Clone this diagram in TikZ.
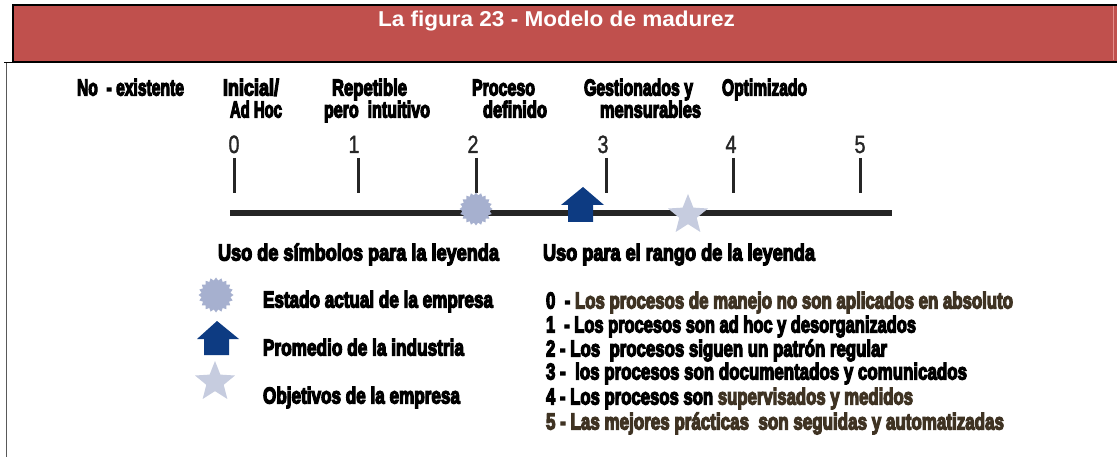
\documentclass[tikz,border=0pt]{standalone}
\usepackage{graphicx}
\usepackage{fontspec}
\usetikzlibrary{shapes.geometric}
\setmainfont{Liberation Sans}
\newfontfamily\impf[FakeBold=6]{Liberation Sans Bold}
\newfontfamily\digf[FakeBold=1.5]{Liberation Sans}
\definecolor{band}{HTML}{C0504D}
\definecolor{bandline}{HTML}{E58F8C}
\definecolor{burstc}{HTML}{A6B0CF}
\definecolor{starc}{HTML}{C6CCDF}
\definecolor{arrowc}{HTML}{0D3B82}
\definecolor{brownc}{HTML}{3F3323}
\newcommand{\imp}[2]{\resizebox{#1pt}{\height}{\fontsize{23}{23}\impf #2}}
\newcommand{\dig}[1]{\resizebox{11pt}{\height}{\fontsize{25}{25}\digf #1}}
\tikzset{
  lbl/.style={anchor=base west,inner sep=0pt,outer sep=0pt,text=black},
  digit/.style={anchor=base,inner sep=0pt,outer sep=0pt,text=black!85},
  burst/.style={star,star points=20,star point ratio=1.2,fill=burstc,inner sep=0pt,outer sep=0pt},
  goal/.style={star,star points=5,star point ratio=2.3,fill=starc,inner sep=0pt,outer sep=0pt,minimum size=42pt},
  tick/.style={line width=3pt,black!85},
  uparrow/.style={fill=arrowc,draw=none},
}
\begin{document}
\begin{tikzpicture}[x=1pt,y=-1pt]
\useasboundingbox[fill=white] (0,0) rectangle (1117,457);
% band
\fill[band] (12,4) rectangle (1117,62);
\draw[black,line width=2pt] (1117,5) -- (12.5,5) -- (12.5,62) -- (1117,62);
\draw[bandline,line width=1pt] (1113.5,6) -- (1113.5,60);
\draw[black,line width=1pt] (4,62.5) -- (12,62.5);
\draw[black!65,line width=1.3pt] (6.5,63) -- (6.5,457);
\node[anchor=base,inner sep=0pt,text=white] (title) at (556.5,27) {\resizebox{357pt}{\height}{\fontsize{21.5}{21.5}\selectfont\bfseries La figura 23 - Modelo de madurez}};
% level names
\node[lbl] (n0) at (77,95.5) {\imp{107}{No\ \ - existente}};
\node[lbl] (n1a) at (223,95.5) {\imp{56}{Inicial/}};
\node[lbl] (n1b) at (230,117.5) {\imp{52}{Ad Hoc}};
\node[lbl] (n2a) at (332,95.5) {\imp{75}{Repetible}};
\node[lbl] (n2b) at (324,117.5) {\imp{106}{pero\ \ intuitivo}};
\node[lbl] (n3a) at (472,95.5) {\imp{63}{Proceso}};
\node[lbl] (n3b) at (483,117.5) {\imp{64}{definido}};
\node[lbl] (n4a) at (584,95.5) {\imp{109}{Gestionados y}};
\node[lbl] (n4b) at (600,117.5) {\imp{101}{mensurables}};
\node[lbl] (n5) at (722,95.5) {\imp{85}{Optimizado}};
% digits and ticks
\foreach \d/\dx/\tx in {0/234/234.5,1/354/358,2/473/476,3/603/606,4/731/733,5/860/860}{
  \node[digit] (d\d) at (\dx,153) {\dig{\d}};
  \coordinate (ta\d) at (\tx,158);
  \coordinate (tb\d) at (\tx,193);
  \draw[tick] (ta\d) -- (tb\d);
}
% axis
\coordinate (axl) at (230,213);
\coordinate (axr) at (892,213);
\draw[black!85,line width=6pt] (axl) -- (axr);
% symbols on axis
\node[burst,minimum size=33pt] (bs1) at (476,209) {};
\fill[uparrow] (583,187) -- (604,205) -- (593,205) -- (593,222) -- (568,222) -- (568,205) -- (561,205) -- cycle;
\node[goal] (st1) at (688,215) {};
% headings
\node[lbl] (h1) at (218,260.5) {\imp{281}{Uso de símbolos para la leyenda}};
\node[lbl] (h2) at (543,260.5) {\imp{272}{Uso para el rango de la leyenda}};
% legend symbols
\node[burst,minimum size=35pt] (bs2) at (216,295) {};
\fill[uparrow] (217,321) -- (239,339) -- (229,339) -- (229,355) -- (204,355) -- (204,339) -- (197,339) -- cycle;
\node[goal] (st2) at (215,382) {};
% legend text
\node[lbl] (l1) at (263,307.5) {\imp{230}{Estado actual de la empresa}};
\node[lbl] (l2) at (263,355.5) {\imp{201}{Promedio de la industria}};
\node[lbl] (l3) at (263,403.5) {\imp{197}{Objetivos de la empresa}};
% range text
\node[lbl] (r0) at (546,308.5) {\imp{467}{0\ \ - \textcolor{brownc}{Los procesos de manejo no son aplicados en absoluto}}};
\node[lbl] (r1) at (546,332.5) {\imp{370}{1\ \ - Los procesos son ad hoc y desorganizados}};
\node[lbl] (r2) at (546,356.5) {\imp{341}{2 - Los\ \ procesos siguen un patrón regular}};
\node[lbl] (r3) at (546,379.5) {\imp{421}{3 -\ \ los procesos son documentados y comunicados}};
\node[lbl] (r4) at (546,404.5) {\imp{367}{4 - Los procesos son \textcolor{brownc}{supervisados y medidos}}};
\node[lbl,text=brownc] (r5) at (546,429.5) {\imp{458}{5 - Las mejores prácticas\ \ son seguidas y automatizadas}};
\end{tikzpicture}
\end{document}
